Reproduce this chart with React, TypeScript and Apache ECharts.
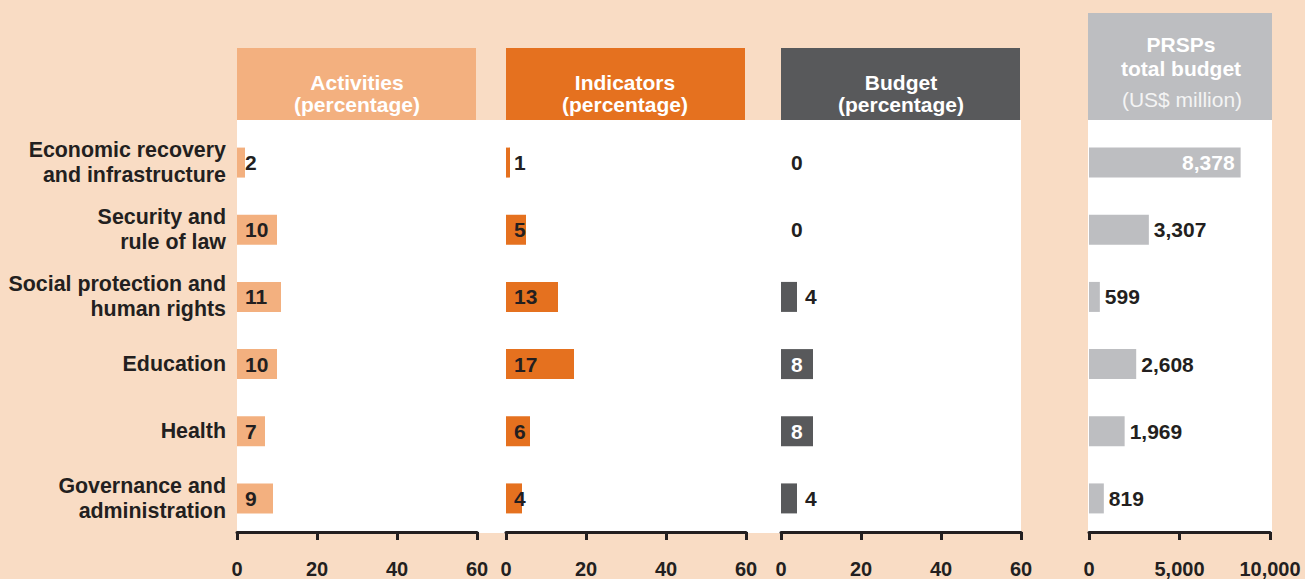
import React, { useEffect, useRef } from "react";
import * as echarts from "echarts";

const categories = [
  "Economic recovery\nand infrastructure",
  "Security and\nrule of law",
  "Social protection and\nhuman rights",
  "Education",
  "Health",
  "Governance and\nadministration",
];
const activities = [2, 10, 11, 10, 7, 9];
const indicators = [1, 5, 13, 17, 6, 4];
const budgetPct = [0, 0, 4, 8, 8, 4];
const prspBudget = [8378, 3307, 599, 2608, 1969, 819];

const pctMax = 60;
const pctInterval = 20;
const usdMax = 10000;
const usdInterval = 5000;

const FONT = '"Liberation Sans", Arial, Helvetica, sans-serif';
const DARK = "#231F20";
const BG = "#F9DCC4";
const C_ACT = "#F3B07F";
const C_IND = "#E5711F";
const C_BUD = "#58595B";
const C_PRSP = "#BDBEC1";

const panels = [
  { left: 237, width: 240 },
  { left: 506, width: 240 },
  { left: 781, width: 240 },
  { left: 1089, width: 181 },
];
const gridTop = 129;
const gridHeight = 404;

export default function App() {
  const ref = useRef<HTMLDivElement>(null);
  useEffect(() => {
    if (!ref.current) return;
    const chart = echarts.init(ref.current, undefined, { renderer: "svg" });

    const labelBase = {
      show: true,
      fontFamily: FONT,
      fontWeight: "bold" as const,
      fontSize: 21,
      color: DARK,
    };

    const grids = panels.map((p) => ({
      left: p.left,
      width: p.width,
      top: gridTop,
      height: gridHeight,
      containLabel: false,
    }));

    const xAxes = panels.map((p, i) => ({
      type: "value" as const,
      gridIndex: i,
      min: 0,
      max: i === 3 ? usdMax : pctMax,
      interval: i === 3 ? usdInterval : pctInterval,
      axisLine: { show: true, lineStyle: { color: DARK, width: 3 } },
      axisTick: { show: true, length: 8, lineStyle: { color: DARK, width: 3 } },
      splitLine: { show: false },
      axisLabel: {
        margin: 27,
        color: DARK,
        fontFamily: FONT,
        fontWeight: "bold" as const,
        fontSize: 20,
        formatter: (v: number) => v.toLocaleString("en-US"),
      },
    }));

    const yAxes = panels.map((p, i) => ({
      type: "category" as const,
      gridIndex: i,
      data: categories,
      inverse: true,
      axisLine: { show: false },
      axisTick: { show: false },
      axisLabel: {
        show: i === 0,
        margin: 11,
        color: DARK,
        fontFamily: FONT,
        fontWeight: "bold" as const,
        fontSize: 21.4,
        lineHeight: 25,
        padding: [4, 0, 0, 0],
        align: "right" as const,
      },
    }));

    const fmt = (p: any) => Number(p.value).toLocaleString("en-US");

    const series = [
      {
        type: "bar",
        xAxisIndex: 0,
        yAxisIndex: 0,
        barWidth: 30,
        itemStyle: { color: C_ACT },
        label: { ...labelBase, position: "insideLeft", distance: 8 },
        data: activities,
      },
      {
        type: "bar",
        xAxisIndex: 1,
        yAxisIndex: 1,
        barWidth: 30,
        itemStyle: { color: C_IND },
        label: { ...labelBase, position: "insideLeft", distance: 8 },
        data: indicators,
      },
      {
        type: "bar",
        xAxisIndex: 2,
        yAxisIndex: 2,
        barWidth: 30,
        itemStyle: { color: C_BUD },
        data: budgetPct.map((v) => ({
          value: v,
          label:
            v > 0 && v < 5
              ? { ...labelBase, position: "right", distance: 8 }
              : { ...labelBase, position: "insideLeft", distance: 10, color: v > 0 ? "#FFFFFF" : DARK },
        })),
      },
      {
        type: "bar",
        xAxisIndex: 3,
        yAxisIndex: 3,
        barWidth: 30,
        itemStyle: { color: C_PRSP },
        data: prspBudget.map((v) => ({
          value: v,
          label:
            v > 6000
              ? { ...labelBase, position: "insideRight", distance: 6, color: "#FFFFFF", formatter: fmt }
              : { ...labelBase, position: "right", distance: 5, formatter: fmt },
        })),
      },
    ];

    const headerText = (x: number, y: number, text: string, weight: string, color = "#FFFFFF") => ({
      type: "text",
      x,
      y,
      z: 10,
      style: {
        text,
        fill: color,
        fontFamily: FONT,
        fontWeight: weight,
        fontSize: 21,
        lineHeight: 22,
        align: "center",
        verticalAlign: "middle",
        textAlign: "center",
        textVerticalAlign: "middle",
      },
    });

    const graphic = [
      { type: "rect", z: -10, shape: { x: 237, y: 120, width: 784, height: 413 }, style: { fill: "#FFFFFF" } },
      { type: "rect", z: -10, shape: { x: 1088, y: 120, width: 184, height: 413 }, style: { fill: "#FFFFFF" } },
      { type: "rect", z: 5, shape: { x: 237, y: 48, width: 239, height: 72 }, style: { fill: C_ACT } },
      { type: "rect", z: 5, shape: { x: 506, y: 48, width: 239, height: 72 }, style: { fill: C_IND } },
      { type: "rect", z: 5, shape: { x: 781, y: 48, width: 239, height: 72 }, style: { fill: C_BUD } },
      { type: "rect", z: 5, shape: { x: 1088, y: 13, width: 184, height: 107 }, style: { fill: C_PRSP } },
      headerText(357, 93, "Activities\n(percentage)", "bold"),
      headerText(625, 93, "Indicators\n(percentage)", "bold"),
      headerText(901, 93, "Budget\n(percentage)", "bold"),
      headerText(1181, 44, "PRSPs", "bold"),
      headerText(1181, 68, "total budget", "bold"),
      headerText(1182, 99, "(US$ million)", "normal", "#F4F4F4"),
    ];

    chart.setOption({
      animation: false,
      backgroundColor: BG,
      textStyle: { fontFamily: FONT },
      grid: grids,
      xAxis: xAxes,
      yAxis: yAxes,
      series,
      graphic,
    });
    return () => chart.dispose();
  }, []);

  return (
    <div
      ref={ref}
      style={{ position: "fixed", left: 0, top: 0, width: 1305, height: 579 }}
    />
  );
}
